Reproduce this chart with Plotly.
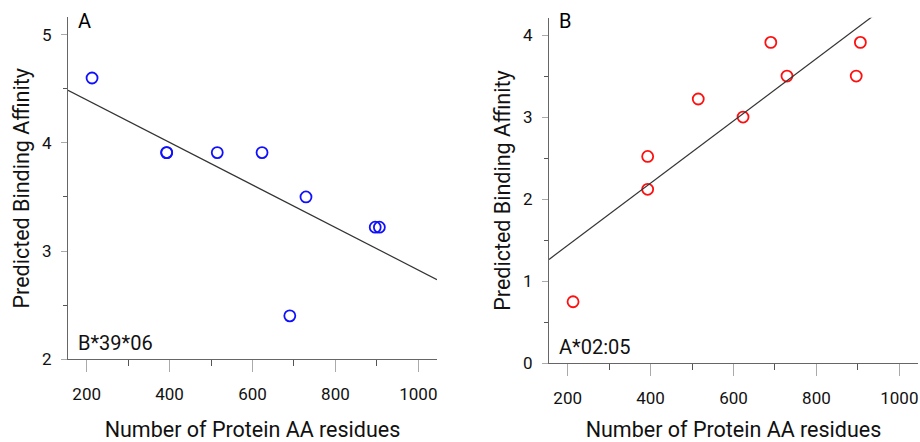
import numpy as np
import plotly.graph_objects as go

# ---- data ----
residues_A = [213, 393, 393, 515, 623, 690, 729, 896, 906]
affinity_A = [4.60, 3.91, 3.91, 3.91, 3.91, 2.40, 3.50, 3.22, 3.22]
residues_B = [213, 393, 393, 515, 623, 690, 729, 896, 906]
affinity_B = [0.75, 2.52, 2.12, 3.22, 3.00, 3.91, 3.50, 3.50, 3.91]
panel_labels = ["A", "B"]
allele_labels = ["B*39*06", "A*02:05"]
x_title = "Number of Protein AA residues"
y_title = "Predicted Binding Affinity"
x_tickvals = [200, 400, 600, 800, 1000]

XR = [155, 1045]
FONT = "Roboto"
TXT = "#111111"

fig = go.Figure()

def add_panel(xs, ys, color, xa, ya):
    fig.add_trace(go.Scatter(x=xs, y=ys, mode="markers", xaxis=xa, yaxis=ya,
                             marker=dict(symbol="circle-open", size=11, color=color,
                                         line=dict(width=1.8, color=color)),
                             showlegend=False, cliponaxis=False))
    m, b = np.polyfit(xs, ys, 1)
    lx = np.array(XR, dtype=float)
    fig.add_trace(go.Scatter(x=lx, y=m * lx + b, mode="lines", xaxis=xa, yaxis=ya,
                             line=dict(color="#333333", width=1.2), showlegend=False))

add_panel(residues_A, affinity_A, "#1010ff", "x", "y")
add_panel(residues_B, affinity_B, "#ff1010", "x2", "y2")

tickfont = dict(family=FONT, size=17, color=TXT)
titlefont = dict(family=FONT, size=21.5, color=TXT)

axis_common = dict(showgrid=False, zeroline=False, showline=True, linecolor="#666666",
                   linewidth=1.2, ticks="outside", tickcolor="#aaaaaa",
                   tickfont=tickfont)

xcommon = dict(axis_common, range=XR, tickvals=x_tickvals, ticklen=12,
               ticklabelstandoff=7,
               minor=dict(dtick=100, ticklen=6, tickcolor="#555555", ticks="outside"),
               title=dict(text=x_title, font=titlefont, standoff=19))

ycommon = dict(axis_common, ticklen=6, ticklabelstandoff=6,
               minor=dict(dtick=0.5, ticklen=4, tickcolor="#555555", ticks="outside"),
               title=dict(text=y_title, font=titlefont, standoff=6))

A_dom = [(442-370)/442, (442-18)/442]
B_dom = [(442-374.3)/442, (442-18.3)/442]

fig.update_layout(
    width=920, height=442,
    margin=dict(l=0, r=0, t=0, b=0),
    plot_bgcolor="white", paper_bgcolor="white",
    xaxis=dict(xcommon, domain=[68/920, 437/920], anchor="y"),
    yaxis=dict(ycommon, domain=A_dom, anchor="x",
               range=[2, 5.16], tickvals=[2, 3, 4, 5]),
    xaxis2=dict(xcommon, domain=[549/920, 918/920], anchor="y2"),
    yaxis2=dict(ycommon, domain=B_dom, anchor="x2",
                range=[0, 4.21], tickvals=[0, 1, 2, 3, 4]),
)

panels = [("x domain", "y domain", 370, 352), ("x2 domain", "y2 domain", 374.3, 356)]
label_y = [22, 22]
allele_y = [353, 357.7]
for i, (xr, yr, bottom, h) in enumerate(panels):
    fig.add_annotation(text=panel_labels[i], xref=xr, yref=yr, x=0.022,
                       y=(bottom - label_y[i]) / h,
                       xanchor="left", yanchor="middle", showarrow=False,
                       font=dict(family=FONT, size=20, color="black"))
    fig.add_annotation(text=allele_labels[i], xref=xr, yref=yr, x=0.022,
                       y=(bottom - allele_y[i]) / h,
                       xanchor="left", yanchor="middle", showarrow=False,
                       font=dict(family=FONT, size=20, color=TXT))

fig.write_html("out.html", config={"displayModeBar": False},
               post_script="document.body.style.margin='0';document.body.style.overflow='hidden';")
